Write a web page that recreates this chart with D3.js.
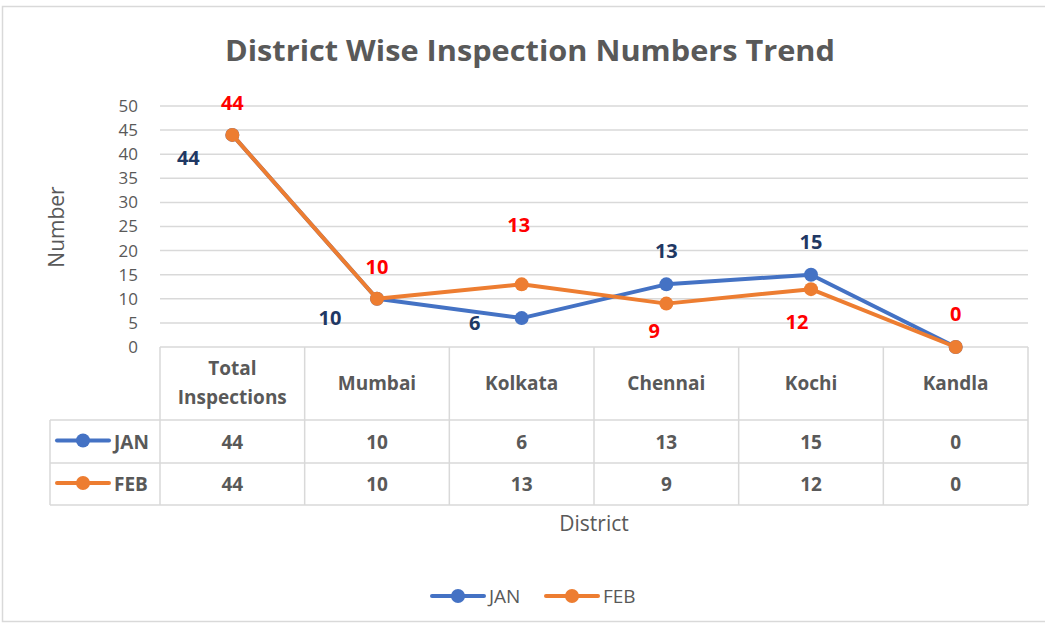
<!DOCTYPE html>
<html>
<head>
<meta charset="utf-8">
<script src="https://cdn.jsdelivr.net/npm/d3@7"></script>
<style>
  body { margin: 0; background: #fff; }
  text { font-family: "Open Sans", "DejaVu Sans", sans-serif; }
</style>
</head>
<body>
<svg id="chart" width="1045" height="627"></svg>
<script>
// chart data
var districts = ["Total Inspections", "Mumbai", "Kolkata", "Chennai", "Kochi", "Kandla"];
var seriesNames = ["JAN", "FEB"];
var janValues = [44, 10, 6, 13, 15, 0];
var febValues = [44, 10, 13, 9, 12, 0];
var yTicks = [0, 5, 10, 15, 20, 25, 30, 35, 40, 45, 50];

// label offsets (dx, dy) picked to mimic the original placement
var janLabelOffset = [[-44, 30], [-47, 26], [-47, 12], [0, -26], [0, -26], null];
var febLabelOffset = [[0, -25], [0, -25], [-3, -52], [-12, 34], [-14, 40], [0, -26]];

var colors = { JAN: "#4472c4", FEB: "#ed7d31" };
var labelColors = { JAN: "#1f3864", FEB: "#ff0000" };
var grey = "#595959", gridCol = "#d9d9d9";

var svg = d3.select("#chart");

// outer frame
svg.append("rect").attr("x", 2.5).attr("y", 6.5).attr("width", 1050).attr("height", 615)
  .attr("fill", "none").attr("stroke", gridCol).attr("stroke-width", 1.5);

var plotLeft = 160, plotRight = 1028, plotTop = 106, plotBottom = 347;

var x = d3.scaleBand().domain(districts).range([plotLeft, plotRight]).padding(0);
var y = d3.scaleLinear().domain([0, 50]).range([plotBottom, plotTop]);
var cx = d => x(d) + x.bandwidth() / 2;

// title
svg.append("text").attr("x", 530).attr("y", 61).attr("text-anchor", "middle")
  .attr("font-size", 29).attr("font-weight", "bold").attr("fill", grey)
  .attr("textLength", 610).attr("lengthAdjust", "spacingAndGlyphs")
  .text("District Wise Inspection Numbers Trend");

// gridlines
svg.append("g").selectAll("line").data(yTicks.slice(1)).enter().append("line")
  .attr("x1", plotLeft).attr("x2", plotRight)
  .attr("y1", d => y(d)).attr("y2", d => y(d))
  .attr("stroke", gridCol).attr("stroke-width", 1.5);

// y axis labels
var yAxis = d3.axisLeft(y).tickValues(yTicks).tickSize(0).tickPadding(0);
var yg = svg.append("g").attr("transform", "translate(138,0)").call(yAxis);
yg.select(".domain").remove();
yg.selectAll("text").attr("font-size", 17).attr("fill", grey)
  .attr("font-family", "'Open Sans', sans-serif");

svg.append("text").attr("transform", "translate(64,227) rotate(-90)")
  .attr("text-anchor", "middle").attr("font-size", 21).attr("fill", grey).text("Number");

// data table
var rowTop = [plotBottom, 420, 463, 505];
var tbl = svg.append("g").attr("stroke", gridCol).attr("stroke-width", 1.5).attr("fill", "none");
tbl.append("line").attr("x1", plotLeft).attr("x2", plotRight).attr("y1", plotBottom).attr("y2", plotBottom);
[420, 463, 505].forEach(function (yy) {
  tbl.append("line").attr("x1", 50).attr("x2", plotRight).attr("y1", yy).attr("y2", yy);
});
districts.forEach(function (d) {
  tbl.append("line").attr("x1", x(d)).attr("x2", x(d)).attr("y1", plotBottom).attr("y2", 505);
});
tbl.append("line").attr("x1", plotRight).attr("x2", plotRight).attr("y1", plotBottom).attr("y2", 505);
tbl.append("line").attr("x1", 50).attr("x2", 50).attr("y1", 420).attr("y2", 505);

// header cells
var hdr = svg.append("g").selectAll("text").data(districts).enter().append("text")
  .attr("text-anchor", "middle")
  .attr("font-size", 19).attr("font-weight", "bold").attr("fill", grey);
hdr.each(function (d) {
  var t = d3.select(this);
  var words = d === "Total Inspections" ? ["Total", "Inspections"] : [d];
  var y0 = words.length === 2 ? 375 : 390;
  words.forEach(function (w, i) {
    t.append("tspan").attr("x", cx(d)).attr("y", y0 + i * 29).text(w);
  });
});

var series = [{ name: "JAN", values: janValues, offs: janLabelOffset },
              { name: "FEB", values: febValues, offs: febLabelOffset }];

function legendKey(g, kx, ky, col) {
  g.append("line").attr("x1", kx - 26).attr("x2", kx + 26).attr("y1", ky).attr("y2", ky)
    .attr("stroke", col).attr("stroke-width", 4).attr("stroke-linecap", "round");
  g.append("circle").attr("cx", kx).attr("cy", ky).attr("r", 7).attr("fill", col);
}

// series rows in table
series.forEach(function (s, si) {
  var ry = (rowTop[si + 1] + rowTop[si + 2]) / 2;
  var g = svg.append("g");
  legendKey(g, 83, ry - 1, colors[s.name]);
  g.append("text").attr("x", 114).attr("y", ry + 7).attr("font-size", 19)
    .attr("font-weight", "bold").attr("fill", grey).text(s.name);
  g.selectAll("text.val").data(s.values).enter().append("text").attr("class", "val")
    .attr("x", (d, i) => cx(districts[i])).attr("y", ry + 7)
    .attr("text-anchor", "middle").attr("font-size", 19).attr("font-weight", "bold")
    .attr("fill", grey).text(d => d);
});

// lines + markers
var line = d3.line().x((d, i) => cx(districts[i])).y(d => y(d));
series.forEach(function (s) {
  var g = svg.append("g");
  g.append("path").datum(s.values).attr("d", line).attr("fill", "none")
    .attr("stroke", colors[s.name]).attr("stroke-width", 4).attr("stroke-linejoin", "round");
  g.selectAll("circle").data(s.values).enter().append("circle")
    .attr("cx", (d, i) => cx(districts[i])).attr("cy", d => y(d))
    .attr("r", 7).attr("fill", colors[s.name]);
});

// data labels
series.forEach(function (s) {
  var g = svg.append("g");
  s.values.forEach(function (v, i) {
    var o = s.offs[i];
    if (!o) return;
    g.append("text").attr("x", cx(districts[i]) + o[0])
      .attr("y", y(v) + o[1]).attr("text-anchor", "middle")
      .attr("font-size", 20).attr("font-weight", "bold").attr("fill", labelColors[s.name]).text(v);
  });
});

// axis title
svg.append("text").attr("x", 594).attr("y", 531).attr("text-anchor", "middle")
  .attr("font-size", 21).attr("fill", grey).text("District");

// bottom legend
var lg = svg.append("g");
[["JAN", 458, 489], ["FEB", 572, 603]].forEach(function (l) {
  legendKey(lg, l[1], 596, colors[l[0]]);
  lg.append("text").attr("x", l[2]).attr("y", 603).attr("font-size", 19)
    .attr("fill", grey).text(l[0]);
});
</script>
</body>
</html>
